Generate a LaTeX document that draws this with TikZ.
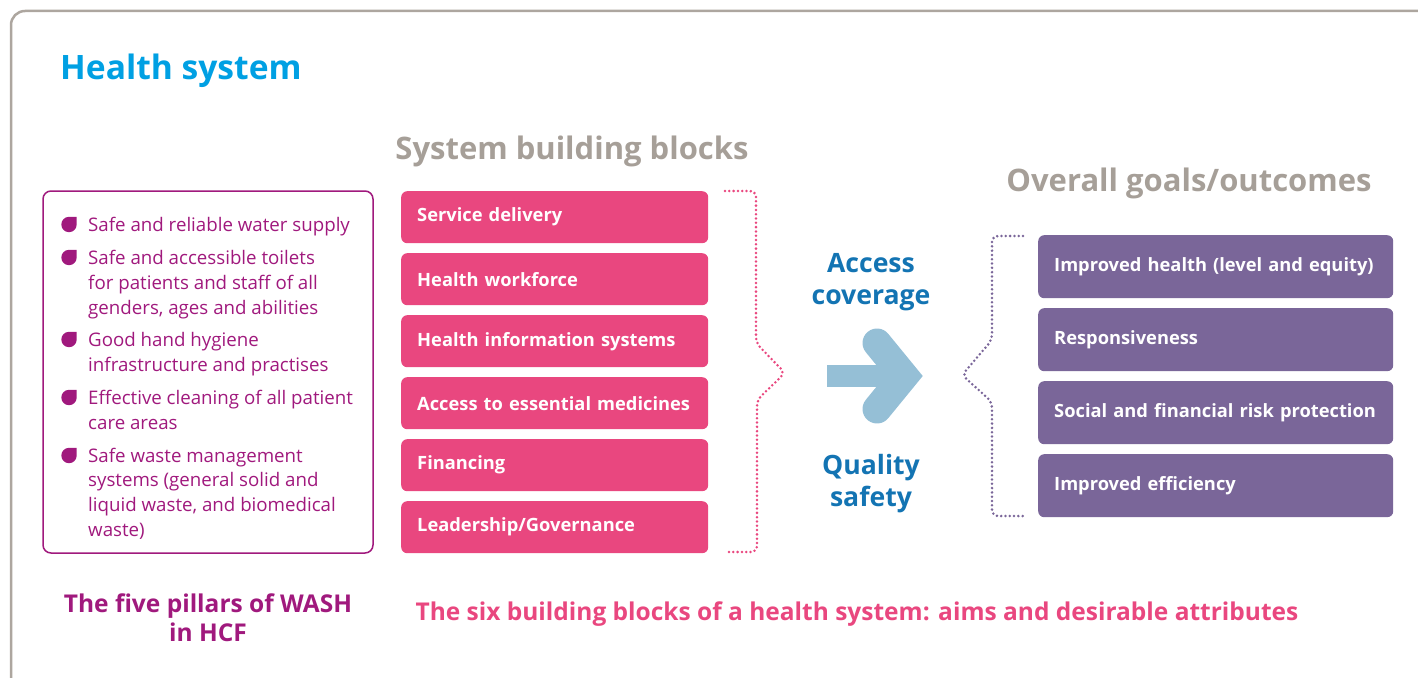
\documentclass[tikz,border=0pt]{standalone}
\usepackage{fontspec}
\setmainfont{Open Sans}
\definecolor{hsblue}{HTML}{00A0E3}
\definecolor{headgray}{HTML}{A69F98}
\definecolor{framegray}{HTML}{ADA69F}
\definecolor{washmag}{HTML}{A0197D}
\definecolor{blockpink}{HTML}{E9477F}
\definecolor{goalpurple}{HTML}{7A6699}
\definecolor{accblue}{HTML}{1374B3}
\definecolor{arrowblue}{HTML}{95BFD6}
\tikzset{
  bullettext/.style={anchor=base west, inner sep=0pt, text=washmag, font=\fontsize{18.7}{25}\selectfont},
  pinkbox/.style={anchor=north west, fill=blockpink, rounded corners=6pt, minimum height=52pt, text width=275pt, inner xsep=16pt, inner ysep=0pt, align=left, text=white, font=\bfseries\fontsize{18.3}{22}\selectfont},
  purplebox/.style={anchor=north west, fill=goalpurple, rounded corners=6pt, minimum height=63pt, text width=323pt, inner xsep=16pt, inner ysep=0pt, align=left, text=white, font=\bfseries\fontsize{18.3}{22}\selectfont},
  heading/.style={anchor=base, inner sep=0pt, text=headgray, font=\bfseries\fontsize{31}{36}\selectfont},
  flowlabel/.style={anchor=base, inner sep=0pt, text=accblue, font=\bfseries\fontsize{26.6}{30}\selectfont},
  caption/.style={anchor=base, inner sep=0pt, font=\bfseries\fontsize{24.5}{30}\selectfont},
  dotline/.style={line width=2.8pt, dash pattern=on 0pt off 4.3pt, line cap=round},
  leaf/.pic={\fill[washmag] (0,-7.7) -- (7.7,-7.7) -- (7.7,0) arc[start angle=0,end angle=270,radius=7.7];}
}
\begin{document}
\begin{tikzpicture}[x=1pt,y=-1pt]
\useasboundingbox (0,0) rectangle (1418,677);
\begin{scope}
\clip (0,0) rectangle (1418,677);
\draw[framegray, line width=2.5pt, rounded corners=14pt] (11,11) rectangle (1460,720);
\end{scope}

\node[anchor=base west, inner sep=0pt, text=hsblue, font=\bfseries\fontsize{33.6}{40}\selectfont] (title) at (60,79) {Health system};

% WASH box
\draw[washmag, line width=1.5pt, rounded corners=8pt] (43,191) rectangle (373,553);
\pic at (69,224.5) {leaf};
\pic at (69,257.5) {leaf};
\pic at (69,339.5) {leaf};
\pic at (69,397.5) {leaf};
\pic at (69,455.5) {leaf};
\node[bullettext] (w1) at (88,231) {Safe and reliable water supply};
\node[bullettext] (w2) at (88,264) {Safe and accessible toilets};
\node[bullettext] (w3) at (88,289) {for patients and staff of all};
\node[bullettext] (w4) at (88,314) {genders, ages and abilities};
\node[bullettext] (w5) at (88,346) {Good hand hygiene};
\node[bullettext] (w6) at (88,371) {infrastructure and practises};
\node[bullettext] (w7) at (88,404) {Effective cleaning of all patient};
\node[bullettext] (w8) at (88,429) {care areas};
\node[bullettext] (w9) at (88,462) {Safe waste management};
\node[bullettext] (w10) at (88,486) {systems (general solid and};
\node[bullettext] (w11) at (88,511) {liquid waste, and biomedical};
\node[bullettext] (w12) at (88,536) {waste)};

\node[caption, text=washmag] (washcap) at (208,612) {The five pillars of WASH};
\node[caption, text=washmag] (washcap2) at (208,641) {in HCF};

% building blocks
\node[heading] (sbb) at (572,159) {System building blocks};
\node[pinkbox] (b1) at (401,191) {Service delivery};
\node[pinkbox] (b2) at (401,253) {Health workforce};
\node[pinkbox] (b3) at (401,315) {Health information systems};
\node[pinkbox] (b4) at (401,377) {\mbox{Access to essential medicines}};
\node[pinkbox] (b5) at (401,439) {Financing};
\node[pinkbox] (b6) at (401,501) {Leadership/Governance};

\coordinate (pb1) at (725,191);
\coordinate (pb2) at (756,191);
\coordinate (pb3) at (756,343);
\coordinate (pb4) at (785,373);
\coordinate (pb5) at (757,400);
\coordinate (pb6) at (757,552);
\coordinate (pb7) at (725,552);
\draw[blockpink, dotline, rounded corners=6pt] (pb1) -- (pb2) -- (pb3) -- (pb4) -- (pb5) -- (pb6) -- (pb7);

% middle labels
\node[flowlabel] (acc1) at (871,272) {Access};
\node[flowlabel] (acc2) at (871,304) {coverage};
\node[flowlabel] (qs1) at (871,474) {Quality};
\node[flowlabel] (qs2) at (871,506) {safety};

\coordinate (ar0) at (827,376);
\coordinate (ar1) at (893,376);
\coordinate (arU) at (877,343);
\coordinate (arT) at (904,376);
\coordinate (arD) at (877,409);
\draw[arrowblue, line width=22pt] (ar0) -- (ar1);
\draw[arrowblue, line width=29pt, line cap=round, line join=miter] (arU) -- (arT) -- (arD);

% goals
\node[heading] (goals) at (1189,191) {Overall goals/outcomes};
\coordinate (qb1) at (1023,236);
\coordinate (qb2) at (992,236);
\coordinate (qb3) at (992,340);
\coordinate (qb4) at (962,375);
\coordinate (qb5) at (992,402);
\coordinate (qb6) at (992,516);
\coordinate (qb7) at (1023,516);
\draw[goalpurple, dotline, rounded corners=6pt] (qb1) -- (qb2) -- (qb3) -- (qb4) -- (qb5) -- (qb6) -- (qb7);

\node[purplebox] (g1) at (1038,235) {Improved health (level and equity)};
\node[purplebox] (g2) at (1038,308) {Responsiveness};
\node[purplebox] (g3) at (1038,381) {Social and financial risk protection};
\node[purplebox] (g4) at (1038,454) {Improved efficiency};

\node[caption, text=blockpink] (sixcap) at (857,620) {The six building blocks of a health system: aims and desirable attributes};
\end{tikzpicture}
\end{document}
